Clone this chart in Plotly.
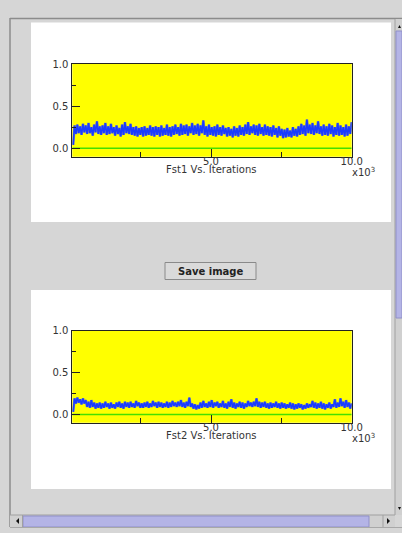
import numpy as np
import plotly.graph_objects as go

W, H = 402, 533

# ---- data (x in thousands of iterations) ----
fst1 = [0.04, 0.27, 0.17, 0.28, 0.18, 0.26, 0.16, 0.29, 0.19, 0.27,
        0.17, 0.30, 0.18, 0.25, 0.15, 0.28, 0.19, 0.32, 0.17, 0.26,
        0.16, 0.27, 0.18, 0.30, 0.16, 0.26, 0.17, 0.29, 0.18, 0.25,
        0.15, 0.27, 0.17, 0.24, 0.14, 0.28, 0.16, 0.31, 0.18, 0.26,
        0.17, 0.29, 0.16, 0.25, 0.15, 0.26, 0.14, 0.24, 0.16, 0.25,
        0.14, 0.26, 0.15, 0.24, 0.16, 0.27, 0.15, 0.25, 0.14, 0.26,
        0.16, 0.25, 0.14, 0.27, 0.15, 0.24, 0.16, 0.28, 0.15, 0.25,
        0.14, 0.26, 0.16, 0.28, 0.17, 0.25, 0.15, 0.29, 0.16, 0.27,
        0.17, 0.28, 0.15, 0.26, 0.18, 0.30, 0.16, 0.27, 0.17, 0.29,
        0.15, 0.27, 0.18, 0.33, 0.16, 0.26, 0.14, 0.28, 0.16, 0.25,
        0.15, 0.26, 0.14, 0.28, 0.16, 0.25, 0.15, 0.27, 0.17, 0.24,
        0.14, 0.25, 0.15, 0.23, 0.13, 0.26, 0.15, 0.24, 0.14, 0.27,
        0.16, 0.25, 0.15, 0.28, 0.17, 0.31, 0.16, 0.26, 0.18, 0.28,
        0.16, 0.27, 0.15, 0.29, 0.17, 0.25, 0.15, 0.28, 0.16, 0.26,
        0.15, 0.25, 0.14, 0.27, 0.16, 0.24, 0.13, 0.26, 0.15, 0.23,
        0.12, 0.22, 0.13, 0.24, 0.14, 0.21, 0.13, 0.25, 0.15, 0.23,
        0.14, 0.26, 0.16, 0.29, 0.17, 0.27, 0.15, 0.34, 0.18, 0.28,
        0.17, 0.30, 0.16, 0.27, 0.18, 0.32, 0.17, 0.26, 0.15, 0.28,
        0.16, 0.26, 0.15, 0.29, 0.17, 0.27, 0.14, 0.25, 0.16, 0.30,
        0.15, 0.27, 0.16, 0.25, 0.14, 0.28, 0.15, 0.26, 0.17, 0.31]

fst2 = [0.03, 0.19, 0.13, 0.20, 0.14, 0.18, 0.12, 0.19, 0.13, 0.17,
        0.09, 0.15, 0.08, 0.17, 0.09, 0.14, 0.07, 0.13, 0.08, 0.14,
        0.07, 0.13, 0.08, 0.15, 0.09, 0.13, 0.07, 0.14, 0.08, 0.12,
        0.07, 0.14, 0.09, 0.15, 0.08, 0.13, 0.07, 0.15, 0.09, 0.14,
        0.08, 0.15, 0.09, 0.13, 0.08, 0.16, 0.10, 0.14, 0.08, 0.13,
        0.08, 0.14, 0.09, 0.15, 0.08, 0.13, 0.09, 0.16, 0.10, 0.14,
        0.08, 0.15, 0.09, 0.14, 0.08, 0.13, 0.09, 0.15, 0.08, 0.14,
        0.09, 0.16, 0.10, 0.14, 0.09, 0.15, 0.10, 0.17, 0.09, 0.14,
        0.08, 0.15, 0.10, 0.20, 0.09, 0.13, 0.07, 0.12, 0.06, 0.11,
        0.07, 0.14, 0.08, 0.16, 0.09, 0.13, 0.08, 0.15, 0.09, 0.17,
        0.08, 0.14, 0.10, 0.15, 0.08, 0.13, 0.09, 0.16, 0.08, 0.13,
        0.07, 0.15, 0.09, 0.18, 0.08, 0.14, 0.07, 0.13, 0.09, 0.15,
        0.08, 0.14, 0.07, 0.13, 0.09, 0.16, 0.10, 0.14, 0.09, 0.15,
        0.10, 0.19, 0.09, 0.15, 0.08, 0.14, 0.09, 0.15, 0.08, 0.13,
        0.07, 0.14, 0.08, 0.13, 0.09, 0.15, 0.08, 0.13, 0.07, 0.14,
        0.08, 0.13, 0.07, 0.12, 0.08, 0.14, 0.07, 0.13, 0.06, 0.12,
        0.07, 0.13, 0.08, 0.12, 0.06, 0.11, 0.07, 0.13, 0.08, 0.12,
        0.09, 0.16, 0.08, 0.14, 0.07, 0.13, 0.08, 0.15, 0.07, 0.13,
        0.06, 0.12, 0.08, 0.14, 0.07, 0.12, 0.09, 0.18, 0.08, 0.14,
        0.09, 0.19, 0.10, 0.15, 0.08, 0.17, 0.09, 0.14, 0.07, 0.13]

iterations = np.linspace(0.1, 10.0, len(fst1))  # x 10^3

titles = ["Fst1 Vs. Iterations", "Fst2 Vs. Iterations"]
ytickvals = [0.0, 0.5, 1.0]
yticktext = ["0.0", "0.5", "1.0"]
xtickvals = [5.0, 10.0]
xticktext = ["5.0", "10.0"]


def px(x):
    return x / W


def py(y):
    return 1 - y / H


FONT = "DejaVu Sans"
TXT = "#333333"
BLUE = "#1a3cff"
GREEN = "#44e000"

fig = go.Figure()
shapes = []


def rect(x0, y0, x1, y1, fill, line=None, lw=0):
    shapes.append(dict(type="rect", xref="paper", yref="paper", layer="below",
                       x0=px(x0), x1=px(x1), y0=py(y1), y1=py(y0),
                       fillcolor=fill, line=dict(color=line or fill, width=lw)))


def hline(x0, x1, y, color, w=1):
    shapes.append(dict(type="line", xref="paper", yref="paper", layer="below",
                       x0=px(x0), x1=px(x1), y0=py(y), y1=py(y),
                       line=dict(color=color, width=w)))


def vline(x, y0, y1, color, w=1):
    shapes.append(dict(type="line", xref="paper", yref="paper", layer="below",
                       x0=px(x), x1=px(x), y0=py(y0), y1=py(y1),
                       line=dict(color=color, width=w)))


def tri(pts, color="#111111"):
    path = "M " + " L ".join(f"{px(a)},{py(b)}" for a, b in pts) + " Z"
    shapes.append(dict(type="path", xref="paper", yref="paper", layer="above",
                       path=path, fillcolor=color, line=dict(color=color, width=0)))


def text(x, y, s, size=10, color=TXT, xanchor="center"):
    fig.add_annotation(x=px(x), y=py(y), xref="paper", yref="paper", text=s,
                       showarrow=False, xanchor=xanchor, yanchor="middle",
                       font=dict(family=FONT, size=size, color=color))


# frame
hline(10, 402, 18.5, "#8c8c8c", 1.5)
vline(10, 18, 527, "#8c8c8c", 1.5)
# white panels
rect(31, 22.5, 391, 222, "#ffffff")
rect(31, 290, 391, 489, "#ffffff")

# plot geometry in pixels: (top, bottom)
plots = [(64.0, 156.7), (330.5, 422.8)]
xl, xr = 72.3, 351.7

for i, (series, (top, bot)) in enumerate(zip([fst1, fst2], plots)):
    xa = "x" if i == 0 else "x2"
    ya = "y" if i == 0 else "y2"
    rect(xl, top, xr, bot, "#ffff00")
    fig.add_trace(go.Scatter(x=[0.07, 10.0], y=[0, 0], mode="lines",
                             line=dict(color=GREEN, width=1.5),
                             xaxis=xa, yaxis=ya, hoverinfo="skip"))
    fig.add_trace(go.Scatter(x=iterations, y=series, mode="lines",
                             line=dict(color="#7a82b8", width=2.6),
                             xaxis=xa, yaxis=ya, hoverinfo="skip"))
    fig.add_trace(go.Scatter(x=iterations, y=series, mode="lines",
                             line=dict(color=BLUE, width=1.6),
                             xaxis=xa, yaxis=ya))
    sfx = "" if i == 0 else "2"
    common = dict(showline=True, mirror=True, linecolor="#222222", linewidth=1,
                  showgrid=False, zeroline=False, ticks="inside", tickcolor="#222222",
                  automargin=False,
                  tickfont=dict(family=FONT, size=10, color=TXT))
    fig.layout["xaxis" + sfx] = dict(
        domain=[px(xl), px(xr)], range=[0.07, 10.0], anchor=ya,
        tickvals=xtickvals, ticktext=xticktext, ticklen=8, ticklabelstandoff=-5,
        minor=dict(tickvals=[2.5, 7.5], ticks="inside", ticklen=5, tickcolor="#222222"),
        **common)
    fig.layout["yaxis" + sfx] = dict(
        domain=[py(bot), py(top)], range=[-0.1, 1.0], anchor=xa,
        tickvals=ytickvals, ticktext=yticktext, ticklen=8, ticklabelstandoff=1,
        minor=dict(tickvals=[0.25, 0.75], ticks="inside", ticklen=4, tickcolor="#222222"),
        **common)
    text(211, bot + 13, titles[i])
    text(350, bot + 15.5, "x10<sup>3</sup>", xanchor="left")

# vertical scrollbar
rect(395, 19, 402, 515, "#d0d0d0")
vline(395, 19, 515, "#a0a0a0", 1)
rect(396, 31, 402, 318, "#b4b4e6", "#9090c8", 1)
tri([(398, 28), (401, 28), (399.5, 25)])
tri([(398, 507), (401, 507), (399.5, 510)])
# horizontal scrollbar
rect(10, 515, 395, 527, "#d0d0d0")
hline(10, 395, 515, "#a0a0a0", 1)
rect(23, 516, 369, 527, "#b4b4e6", "#9090c8", 1)
vline(383, 515, 527, "#a0a0a0", 1)
vline(22.5, 515, 527, "#a0a0a0", 1)
tri([(16, 521), (19, 518), (19, 524)])
tri([(387, 518), (387, 524), (390, 521)])
hline(10, 402, 527.5, "#a8a8a8", 1)
# save image button
rect(165, 262.5, 256, 279.5, "#dadada", "#8a8a8a", 1)
text(210.5, 271, "<b>Save image</b>", color="#222222")

fig.update_layout(width=W, height=H, autosize=False,
                  margin=dict(l=0, r=0, t=0, b=0, pad=0, autoexpand=False),
                  paper_bgcolor="#d6d6d6", plot_bgcolor="#ffff00",
                  showlegend=False, shapes=shapes)

fig.write_html("out.html",
               config={"displayModeBar": False, "responsive": False},
               post_script="document.body.style.margin='0';"
                           "document.documentElement.style.overflow='hidden';"
                           "document.body.style.overflow='hidden';")
